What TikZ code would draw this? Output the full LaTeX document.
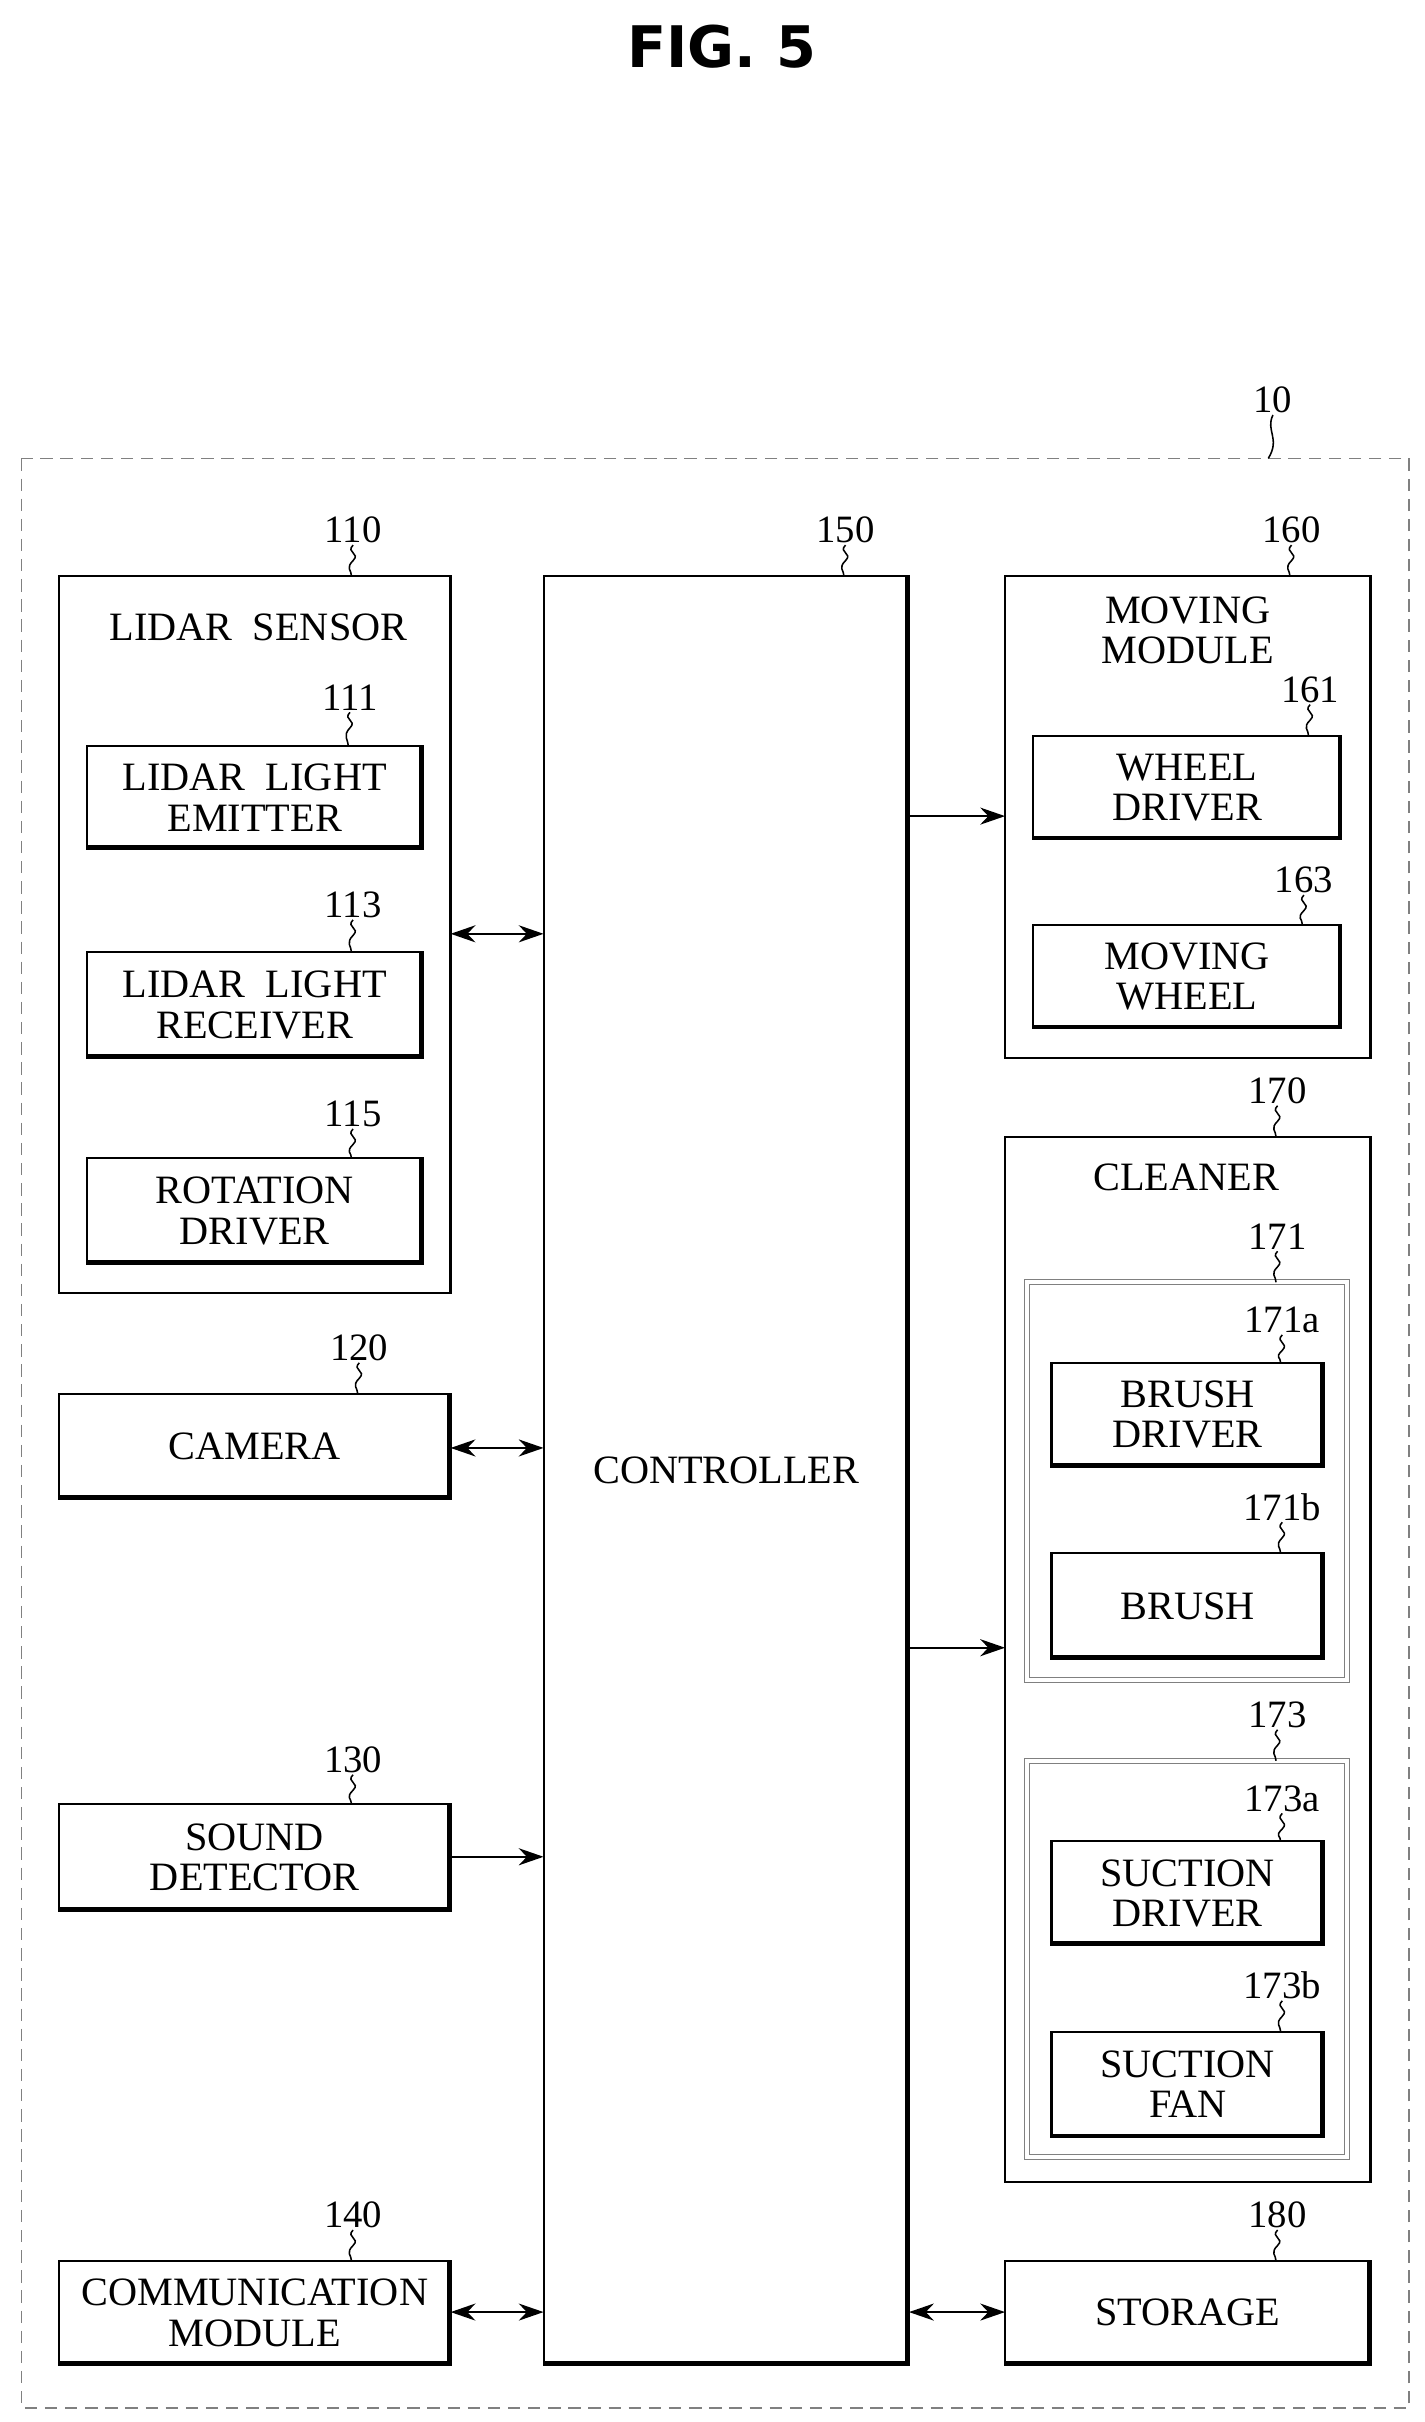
\documentclass[tikz,border=0pt]{standalone}
\usepackage{fontspec}
\setmainfont{Liberation Serif}
\newfontfamily\figfont{DejaVu Sans}
\usetikzlibrary{arrows.meta,calc}
\tikzset{
 bx/.style={draw,line width=1.3pt,inner sep=0pt,outer sep=0pt,anchor=north west,align=center,font=\fontsize{26}{26}\selectfont},
 lbl/.style={font=\fontsize{25}{25}\selectfont,inner sep=1pt,anchor=south},
 arr/.style={line width=1.5pt,-{Stealth[length=16pt,width=11pt]}},
 darr/.style={line width=1.5pt,{Stealth[length=16pt,width=11pt]}-{Stealth[length=16pt,width=11pt]}},
}
\newcommand{\mybox}[6]{%
 \node[bx,minimum width={(#4-#2)*1pt},minimum height={(#5-#3)*1pt}] (#1) at (#2,#3) {#6};
 \draw[line width=3pt] ([xshift=-0.8pt]#1.north east) -- ([xshift=-0.8pt,yshift=0.8pt]#1.south east) -- ([yshift=0.8pt]#1.south west);}
\newcommand{\mylab}[4]{%
 \node[lbl] (#1) at (#2,#3) {#1};
 \draw[line width=1pt] (#1.south) .. controls ++(-5,5) and ++(5,-5) .. ($(#1.south)+(0,10)$) .. controls ++(-5,5) and ++(0,-4) .. (#2-1,#4);}
\begin{document}
\begin{tikzpicture}[x=1pt,y=-1pt]
\useasboundingbox (0,0) rectangle (920,1564);
\node[font=\figfont\bfseries\fontsize{37}{37}\selectfont] (fig) at (466,30) {FIG. 5};
\draw[gray,line width=1pt,dash pattern=on 8pt off 5pt] (14,296) rectangle (910,1555);
\node[lbl] (10) at (822,268) {10};
\draw[line width=1pt] (10.south) .. controls (817,278) and (827,283) .. (819,296);
\node[bx,minimum width=253pt,minimum height=463pt,line width=1.5pt] (110b) at (38,372) {};
\node[font=\fontsize{26}{26}\selectfont] (lt) at (167,405) {LIDAR\ \ SENSOR};
\mybox{111b}{56}{482}{273}{548}{LIDAR\ \ LIGHT\\EMITTER}
\mybox{113b}{56}{615}{273}{683}{LIDAR\ \ LIGHT\\RECEIVER}
\mybox{115b}{56}{748}{273}{816}{ROTATION\\DRIVER}
\mybox{120b}{38}{900}{291}{968}{CAMERA}
\mybox{130b}{38}{1165}{291}{1234}{SOUND\\DETECTOR}
\mybox{140b}{38}{1460}{291}{1527}{COMMUNICATION\\MODULE}
\mybox{150b}{351}{372}{587}{1527}{CONTROLLER}
\node[bx,minimum width=236pt,minimum height=311pt,line width=1.5pt] (160b) at (649,372) {};
\node[align=center,font=\fontsize{26}{26}\selectfont] (mt) at (767,407) {MOVING\\MODULE};
\mybox{161b}{667}{475}{866}{542}{WHEEL\\DRIVER}
\mybox{163b}{667}{597}{866}{664}{MOVING\\WHEEL}
\node[bx,minimum width=236pt,minimum height=675pt,line width=1.5pt] (170b) at (649,734) {};
\node[font=\fontsize{26}{26}\selectfont] (ct) at (766,760) {CLEANER};
\node[bx,minimum width=207pt,minimum height=257pt,line width=0.8pt,double=white,double distance=2.5pt,draw=gray] (171b) at (663,828) {};
\node[bx,minimum width=207pt,minimum height=256pt,line width=0.8pt,double=white,double distance=2.5pt,draw=gray] (173b) at (663,1137) {};
\mybox{171ab}{679}{880}{855}{947}{BRUSH\\DRIVER}
\mybox{171bb}{679}{1003}{855}{1071}{BRUSH}
\mybox{173ab}{679}{1189}{855}{1256}{SUCTION\\DRIVER}
\mybox{173bb}{679}{1312}{855}{1380}{SUCTION\\FAN}
\mybox{180b}{649}{1460}{885}{1527}{STORAGE}
\mylab{110}{228}{352}{372}
\mylab{111}{226}{460}{482}
\mylab{113}{228}{594}{615}
\mylab{115}{228}{729}{748}
\mylab{120}{232}{880}{900}
\mylab{130}{228}{1146}{1165}
\mylab{140}{228}{1440}{1460}
\mylab{150}{546}{352}{372}
\mylab{160}{834}{352}{372}
\mylab{161}{846}{455}{475}
\mylab{163}{842}{578}{597}
\mylab{170}{825}{714}{734}
\mylab{171}{825}{808}{828}
\mylab{171a}{828}{862}{880}
\mylab{171b}{828}{983}{1003}
\mylab{173}{825}{1117}{1137}
\mylab{173a}{828}{1171}{1189}
\mylab{173b}{828}{1292}{1312}
\mylab{180}{825}{1440}{1460}
\draw[darr] (110b.east |- 0,603) -- (150b.west |- 0,603);
\draw[darr] (120b.east |- 0,935) -- (150b.west |- 0,935);
\draw[arr] (130b.east |- 0,1199) -- (150b.west |- 0,1199);
\draw[darr] (140b.east |- 0,1493) -- (150b.west |- 0,1493);
\draw[arr] (150b.east |- 0,527) -- (160b.west |- 0,527);
\draw[arr] (150b.east |- 0,1064) -- (170b.west |- 0,1064);
\draw[darr] (150b.east |- 0,1493) -- (180b.west |- 0,1493);
\end{tikzpicture}
\end{document}
